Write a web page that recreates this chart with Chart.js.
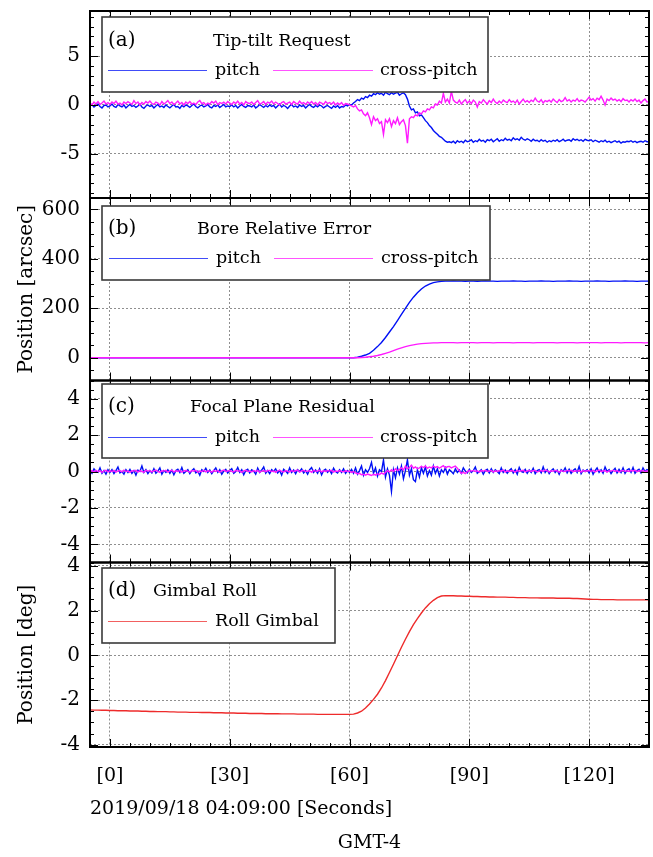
<!DOCTYPE html>
<html><head><meta charset="utf-8">
<script src="https://cdn.jsdelivr.net/npm/chart.js@4/dist/chart.umd.min.js"></script>
<style>
html,body{margin:0;padding:0;background:#fff;}
#wrap{position:relative;width:653px;height:857px;background:#fff;}
#wrap canvas{position:absolute;left:0;top:0;}
</style></head><body>
<div id="wrap">
<canvas id="pa" width="653" height="857"></canvas>
<canvas id="pb" width="653" height="857"></canvas>
<canvas id="pc" width="653" height="857"></canvas>
<canvas id="pd" width="653" height="857"></canvas>
</div>
<script>
// ---------- text ----------
const panelTags = ['(a)', '(b)', '(c)', '(d)'];
const panelTitles = ['Tip-tilt Request', 'Bore Relative Error', 'Focal Plane Residual', 'Gimbal Roll'];
const seriesNames = ['pitch', 'cross-pitch'];
const rollName = 'Roll Gimbal';
const yTitleArcsec = 'Position [arcsec]';
const yTitleDeg = 'Position [deg]';
const xTitle = '2019/09/18 04:09:00 [Seconds]';
const xZone = 'GMT-4';

// ---------- time axes (seconds) ----------
const tStart = -5, tEnd = 135;
const tFine = [];   for (let i = 0; i <= 280; i++) tFine.push(tStart + i * 0.5);
const tCoarse = []; for (let i = 0; i <= 140; i++) tCoarse.push(tStart + i);

// ---------- (a) Tip-tilt Request [arcsec], every 0.5 s ----------
const tipPitch = [
-0.1,0.05,-0.2,-0.05,0.1,-0.15,-0.3,-0.05,0.0,-0.2,
-0.1,0.1,-0.15,-0.25,0.05,-0.1,-0.2,0.0,-0.3,-0.1,
0.05,-0.15,-0.05,-0.25,-0.1,0.1,-0.2,-0.35,-0.1,0.0,
-0.15,-0.05,-0.3,-0.1,0.05,-0.2,-0.1,-0.25,0.0,-0.15,
-0.3,-0.1,0.05,-0.2,-0.15,-0.35,-0.05,-0.2,0.0,-0.1,
-0.25,-0.05,0.1,-0.15,-0.3,-0.1,0.0,-0.2,-0.1,0.05,
-0.2,-0.3,-0.05,-0.15,0.0,-0.25,-0.1,0.05,-0.2,-0.1,
-0.15,0.0,-0.2,-0.05,-0.3,-0.1,0.05,-0.15,-0.25,-0.05,
-0.1,-0.2,0.0,-0.3,-0.15,0.05,-0.1,-0.25,-0.05,-0.2,
0.0,-0.15,-0.05,-0.3,-0.1,0.1,-0.2,-0.05,-0.15,-0.35,
-0.1,0.05,-0.2,-0.1,-0.25,0.0,-0.15,-0.05,-0.3,-0.1,
0.05,-0.15,-0.25,-0.05,-0.2,0.0,-0.1,-0.3,-0.15,-0.05,
-0.2,-0.35,-0.1,-0.25,-0.05,-0.3,-0.15,-0.2,0.0,-0.1,
0.05,0.0,0.2,0.35,0.55,0.45,0.7,0.6,0.85,0.75,
1.0,0.9,1.15,1.05,1.25,1.1,1.2,1.0,1.3,1.15,
1.05,1.25,1.1,1.2,1.3,1.0,1.15,1.25,1.05,0.6,
-0.1,-0.5,-0.4,-0.8,-0.7,-1.1,-1.0,-1.3,-1.6,-1.8,
-2.1,-2.3,-2.6,-2.8,-3.0,-3.2,-3.3,-3.5,-3.7,-3.8,
-3.75,-3.85,-3.7,-3.9,-3.65,-3.8,-3.7,-3.85,-3.6,-3.75,
-3.7,-3.55,-3.8,-3.65,-3.75,-3.5,-3.7,-3.6,-3.8,-3.55,
-3.65,-3.5,-3.75,-3.6,-3.45,-3.7,-3.55,-3.65,-3.4,-3.6,
-3.5,-3.65,-3.35,-3.55,-3.45,-3.6,-3.3,-3.5,-3.6,-3.45,
-3.55,-3.7,-3.5,-3.65,-3.6,-3.75,-3.55,-3.7,-3.6,-3.8,
-3.65,-3.75,-3.6,-3.7,-3.55,-3.75,-3.65,-3.5,-3.7,-3.6,
-3.55,-3.7,-3.45,-3.6,-3.5,-3.65,-3.55,-3.7,-3.5,-3.6,
-3.65,-3.55,-3.75,-3.6,-3.7,-3.8,-3.65,-3.75,-3.6,-3.8,
-3.7,-3.85,-3.75,-3.65,-3.8,-3.7,-3.9,-3.75,-3.8,-3.7,
-3.75,-3.65,-3.8,-3.7,-3.85,-3.75,-3.7,-3.8,-3.65,-3.75,
-3.75];
const tipCross = [
0.2,0.0,0.3,0.1,0.35,0.05,0.2,0.4,0.1,0.25,
0.05,0.3,0.15,0.4,0.1,0.2,0.0,0.3,0.15,0.35,
0.2,0.05,0.45,0.15,0.3,0.0,0.25,0.1,0.35,0.2,
0.4,0.15,0.05,0.3,0.2,0.0,0.35,0.1,0.25,0.45,
0.15,0.3,0.05,0.2,0.4,0.1,0.25,0.0,0.3,0.15,
0.35,0.1,0.2,0.05,0.3,0.45,0.15,0.25,0.0,0.2,
0.1,0.35,0.2,0.4,0.05,0.25,0.15,0.3,0.1,0.35,
0.2,0.05,0.3,0.15,0.4,0.1,0.25,0.0,0.35,0.2,
0.15,0.3,0.05,0.25,0.45,0.1,0.2,0.35,0.05,0.3,
0.2,0.4,0.1,0.3,0.15,0.0,0.25,0.35,0.1,0.2,
0.3,0.05,0.35,0.2,0.1,0.4,0.15,0.25,0.05,0.3,
0.15,0.35,0.1,0.25,0.0,0.3,0.2,0.05,0.35,0.15,
0.25,0.1,0.3,0.0,0.2,0.05,0.25,-0.05,0.15,0.1,
0.0,-0.1,-0.2,-0.05,-0.4,-0.6,-0.5,-0.9,-1.1,-0.8,
-1.3,-2.0,-1.2,-1.6,-1.4,-1.9,-1.7,-3.0,-1.5,-1.8,
-1.4,-2.2,-1.6,-1.9,-1.3,-2.0,-1.7,-1.5,-2.1,-3.9,
-1.4,-1.2,-1.3,-1.0,-1.1,-0.8,-0.9,-0.6,-0.7,-0.4,
-0.5,-0.2,-0.3,0.1,0.0,0.4,0.2,1.2,0.3,0.6,
0.2,1.4,0.5,0.3,0.2,0.5,0.1,0.35,0.55,0.2,
0.4,0.15,0.5,0.3,-0.2,0.35,0.2,0.55,0.3,0.1,
0.45,0.25,0.6,0.3,0.15,0.4,0.2,0.5,0.35,0.25,
0.55,0.3,0.4,0.2,0.5,0.1,0.35,0.6,0.3,0.45,
0.25,0.5,0.35,0.7,0.4,0.3,0.55,0.2,0.45,0.35,
0.5,0.3,0.6,0.4,0.25,0.55,0.35,0.45,0.75,0.4,
0.55,0.3,0.5,0.4,0.65,0.35,0.5,0.45,0.3,0.55,
0.8,0.5,0.65,0.4,0.7,0.55,0.9,0.5,0.0,0.6,
0.45,0.7,0.5,0.6,0.4,0.55,0.35,0.65,0.45,0.5,
0.3,0.55,0.4,0.6,0.35,0.5,0.2,0.45,0.6,0.3,
0.35];

// ---------- (b) Bore Relative Error [arcsec], every 1 s ----------
const borePitch = [
0,0,0,0,0,0,0,0,0,0,
0,0,0,0,0,0,0,0,0,0,
0,0,0,0,0,0,0,0,0,0,
0,0,0,0,0,0,0,0,0,0,
0,0,0,0,0,0,0,0,0,0,
0,0,0,0,0,0,0,0,0,0,
0,0,0,0,0,0,0,
2,6,11,18,30,45,62,82,104,126,150,175,200,224,245,263,278,290,298,304,307,309,310,310,311,310,310,309,
310,310,309,310,311,310,310,309,310,310,
310,311,310,310,309,310,310,310,311,310,
310,309,310,310,310,311,310,310,309,310,
310,310,311,310,310,309,310,310,310,311,
310,310,309,310,310,310];
const boreCross = [
0,0,0,0,0,0,0,0,0,0,
0,0,0,0,0,0,0,0,0,0,
0,0,0,0,0,0,0,0,0,0,
0,0,0,0,0,0,0,0,0,0,
0,0,0,0,0,0,0,0,0,0,
0,0,0,0,0,0,0,0,0,0,
0,0,0,0,0,0,0,0,
1,2,4,6,9,13,18,23,29,35,40,45,49,52,55,57,58,59,60,60,61,61,61,61,60,61,61,
61,61,60,61,61,61,60,61,61,61,
61,60,61,61,61,61,60,61,61,61,
61,61,60,61,61,61,61,60,61,61,
61,61,61,60,61,61,61,61,60,61,
61,61,61,61,60,61];

// ---------- (c) Focal Plane Residual [arcsec], every 0.5 s ----------
const fpPitch = [
0.05,-0.1,0.15,0.0,-0.05,0.2,-0.1,0.05,-0.15,0.1,
-0.05,0.1,-0.12,0.05,0.25,-0.08,0.0,-0.15,0.1,-0.05,
0.12,-0.1,0.05,-0.2,0.08,0.0,0.3,-0.05,0.1,-0.12,
0.05,-0.08,0.15,-0.1,0.02,0.2,-0.15,0.05,-0.05,0.1,
-0.1,0.08,-0.18,0.05,0.12,-0.05,0.22,-0.1,0.0,0.1,
-0.12,0.05,0.15,-0.08,0.02,-0.2,0.1,0.0,0.18,-0.05,
0.08,-0.12,0.05,0.2,-0.05,0.1,-0.15,0.02,0.12,-0.08,
0.05,0.15,-0.1,0.0,0.22,-0.05,0.1,-0.18,0.05,0.12,
-0.08,0.1,0.02,-0.15,0.18,-0.05,0.08,0.25,-0.1,0.05,
-0.12,0.1,0.0,0.15,-0.08,0.05,-0.2,0.12,0.02,-0.1,
0.2,-0.05,0.08,-0.12,0.1,0.0,0.15,-0.08,0.05,-0.15,
0.1,0.22,-0.05,0.08,-0.1,0.15,-0.18,0.05,0.12,-0.05,
0.08,-0.12,0.18,0.0,-0.08,0.1,-0.05,0.15,-0.1,0.05,
-0.05,0.12,-0.1,0.2,-0.15,0.05,0.3,-0.2,0.1,-0.05,
0.15,0.5,-0.1,0.2,-0.25,0.1,0.0,0.64,-0.3,0.15,
-0.2,-1.1,0.1,-0.35,0.2,-0.15,0.3,-0.4,0.05,0.64,
-0.2,0.15,-0.45,-0.55,0.1,-0.3,0.2,-0.1,0.25,-0.25,
0.05,-0.2,0.3,-0.1,0.15,-0.25,0.1,-0.05,0.2,-0.15,
0.1,0.0,-0.12,0.15,-0.05,0.08,-0.1,0.2,0.02,-0.08,
0.12,-0.05,0.05,0.25,-0.1,0.0,0.1,-0.15,0.05,0.12,
-0.08,0.15,-0.05,0.1,0.0,-0.12,0.2,-0.05,0.08,-0.1,
0.05,0.15,-0.08,0.1,-0.15,0.22,0.0,-0.05,0.12,-0.1,
0.08,-0.05,0.18,-0.12,0.05,0.1,-0.08,0.25,-0.05,0.1,
-0.12,0.05,0.15,-0.05,0.08,-0.15,0.1,0.0,0.2,-0.08,
0.12,-0.1,0.05,0.15,-0.05,0.28,-0.12,0.08,0.0,0.1,
-0.08,0.15,-0.15,0.05,0.2,-0.05,0.1,-0.1,0.25,0.0,
0.1,-0.12,0.05,0.18,-0.08,0.12,-0.05,0.2,-0.1,0.08,
0.15,-0.05,0.22,-0.1,0.05,0.12,-0.08,0.2,0.0,0.1,
0.05];
const fpCross = [
0.02,0.05,-0.03,0.06,0.0,0.04,-0.05,0.03,0.07,-0.02,
0.04,0.0,0.06,-0.04,0.03,0.05,-0.02,0.08,0.0,0.03,
-0.05,0.04,0.02,0.07,-0.03,0.05,0.0,-0.04,0.06,0.02,
0.05,-0.02,0.03,0.08,0.0,-0.05,0.04,0.02,0.06,-0.03,
0.03,0.07,-0.02,0.04,0.0,0.06,-0.04,0.03,0.05,0.01,
-0.03,0.05,0.02,0.07,-0.05,0.03,0.0,0.06,-0.02,0.04,
0.02,-0.04,0.06,0.0,0.05,-0.03,0.04,0.08,0.0,0.03,
0.05,0.01,-0.03,0.06,0.02,0.04,-0.05,0.03,0.07,0.0,
0.03,-0.02,0.05,0.0,0.06,-0.04,0.02,0.05,-0.01,0.04,
0.06,0.0,0.03,-0.05,0.04,0.07,0.01,-0.03,0.05,0.02,
-0.02,0.05,0.0,0.04,0.08,-0.03,0.03,0.06,0.0,0.02,
0.04,-0.04,0.06,0.01,0.03,0.07,-0.02,0.04,0.0,0.05,
0.02,0.06,-0.03,0.03,0.0,0.05,0.01,-0.02,0.04,0.0,
0.02,-0.05,0.0,-0.08,-0.12,-0.1,-0.18,-0.15,-0.2,-0.14,
-0.18,-0.22,-0.15,-0.2,-0.12,-0.17,-0.08,-0.14,-0.05,0.05,
-0.02,0.1,0.0,0.15,0.05,0.12,0.2,0.08,0.3,0.15,
0.22,0.35,0.18,0.25,0.15,0.2,0.28,0.22,0.3,0.18,
0.25,0.2,0.3,0.22,0.27,0.18,0.25,0.32,0.2,0.26,
0.28,0.2,0.25,0.3,0.18,0.05,-0.1,-0.05,-0.12,0.0,
0.05,0.02,0.06,0.0,0.04,-0.03,0.05,0.02,0.07,0.0,
0.03,0.06,-0.02,0.04,0.0,0.05,0.02,0.08,-0.03,0.04,
0.0,0.05,0.03,-0.04,0.06,0.01,0.04,0.07,-0.02,0.03,
0.05,0.0,0.04,0.06,-0.03,0.02,0.05,0.0,0.08,0.03,
-0.02,0.04,0.01,0.06,0.03,-0.04,0.05,0.02,0.0,0.06,
0.03,0.07,-0.01,0.04,0.02,0.05,-0.03,0.06,0.0,0.04,
0.05,0.01,0.06,-0.02,0.04,0.08,0.0,0.03,0.05,-0.03,
0.04,0.02,0.07,0.0,0.05,-0.02,0.03,0.06,0.01,0.04,
0.0,0.05,0.03,0.07,-0.01,0.04,0.02,0.06,0.0,0.03,
0.02];

// ---------- (d) Gimbal Roll [deg], every 1 s ----------
const gimbalRoll = [
-2.44,-2.45,-2.45,-2.46,-2.46,
-2.47,-2.47,-2.48,-2.48,-2.48,-2.49,-2.49,-2.49,-2.50,-2.50,
-2.51,-2.51,-2.52,-2.52,-2.52,-2.53,-2.53,-2.54,-2.54,-2.54,
-2.55,-2.55,-2.55,-2.56,-2.56,-2.56,-2.57,-2.57,-2.57,-2.58,
-2.58,-2.58,-2.59,-2.59,-2.59,-2.60,-2.60,-2.60,-2.60,-2.61,
-2.61,-2.61,-2.61,-2.62,-2.62,-2.62,-2.62,-2.63,-2.63,-2.63,
-2.63,-2.63,-2.64,-2.64,-2.64,-2.64,-2.64,-2.64,-2.64,-2.64,
-2.64,-2.63,
-2.58,-2.50,-2.36,-2.18,-1.97,-1.74,-1.46,-1.13,-0.77,-0.40,
-0.02,0.36,0.72,1.06,1.37,1.64,1.89,2.12,2.31,2.46,
2.58,2.65,2.67,2.66,2.66,2.65,2.65,2.64,
2.64,2.63,2.63,2.62,2.62,2.61,2.61,2.60,2.60,2.60,
2.59,2.59,2.58,2.58,2.58,2.57,2.57,2.57,2.56,2.56,
2.56,2.56,2.55,2.55,2.55,2.55,2.54,2.54,2.53,2.52,
2.51,2.50,2.50,2.49,2.49,2.49,2.49,2.48,2.48,2.48,
2.48,2.48,2.48,2.48,2.48,2.48];

// ---------- styling ----------
const FONT = "'DejaVu Serif', 'Liberation Serif', serif";
const BLUE = '#0010f5', MAGENTA = '#ff1aff', RED = '#ee2b2b';
const GRID = '#8f8f8f';

function pts(t, v) { const n = Math.min(t.length, v.length); const out = []; for (let i = 0; i < n; i++) out.push({x: t[i], y: v[i]}); return out; }

function decorPlugin(cfg) {
  return {
    id: 'decor',
    afterDatasetsDraw(chart) {
      const {ctx, chartArea: a, scales: {x, y}} = chart;
      ctx.save();
      ctx.strokeStyle = '#000'; ctx.lineWidth = 1;
      ctx.beginPath();
      x.ticks.forEach(t => {
        const px = Math.round(x.getPixelForValue(t.value)) + 0.5;
        const L = (t.value % 30 === 0) ? 8 : 4;
        ctx.moveTo(px, a.top); ctx.lineTo(px, a.top + L);
        ctx.moveTo(px, a.bottom); ctx.lineTo(px, a.bottom - L);
      });
      y.ticks.forEach(t => {
        const py = Math.round(y.getPixelForValue(t.value)) + 0.5;
        const L = cfg.isMajor(t.value) ? 8 : 4;
        ctx.moveTo(a.left, py); ctx.lineTo(a.left + L, py);
        ctx.moveTo(a.right, py); ctx.lineTo(a.right - L, py);
      });
      ctx.stroke();
      ctx.lineWidth = 2;
      ctx.strokeRect(a.left, a.top, a.right - a.left, a.bottom - a.top);
      // legend box
      const lg = cfg.legend;
      ctx.fillStyle = '#fff';
      ctx.fillRect(lg.x, lg.y, lg.w, lg.h);
      ctx.strokeStyle = '#3a3a3a'; ctx.lineWidth = 1.6;
      ctx.strokeRect(lg.x, lg.y, lg.w, lg.h);
      ctx.fillStyle = '#000';
      ctx.textBaseline = 'middle'; ctx.textAlign = 'left';
      ctx.font = '20px ' + FONT;
      ctx.fillText(lg.tag, lg.tagX, lg.row1);
      ctx.font = '17.5px ' + FONT;
      ctx.fillText(lg.title, lg.titleX, lg.row1);
      const dsList = chart.data.datasets;
      lg.items.forEach((it, i) => {
        const ds = dsList[i];
        ctx.strokeStyle = ds.borderColor; ctx.lineWidth = 1.2; ctx.globalAlpha = 0.75;
        ctx.beginPath(); ctx.moveTo(it.l0, lg.row2 + 0.5); ctx.lineTo(it.l1, lg.row2 + 0.5); ctx.stroke();
        ctx.globalAlpha = 1;
        ctx.fillStyle = '#000'; ctx.font = '17.5px ' + FONT;
        ctx.fillText(ds.label, it.tx, lg.row2);
      });
      if (cfg.zoneText) {
        ctx.font = '19px ' + FONT; ctx.textAlign = 'center';
        ctx.fillText(cfg.zoneText, (a.left + a.right) / 2, 843);
      }
      ctx.restore();
    }
  };
}

function makePanel(id, cfg) {
  const xH = cfg.bottomAxis ? 857 - cfg.bottom : 0;
  const padBottom = cfg.bottomAxis ? 0 : 857 - cfg.bottom;
  return new Chart(document.getElementById(id), {
    type: 'line',
    data: { datasets: cfg.datasets },
    options: {
      responsive: false, animation: false, events: [],
      layout: { padding: { top: cfg.top, bottom: padBottom, left: 0, right: 4 } },
      plugins: { legend: { display: false }, tooltip: { enabled: false } },
      elements: { point: { radius: 0 }, line: { tension: 0, borderWidth: 1.4 } },
      scales: {
        x: {
          type: 'linear', min: tStart, max: tEnd,
          ticks: {
            stepSize: 5, includeBounds: false, autoSkip: false, maxRotation: 0, minRotation: 0,
            display: !!cfg.bottomAxis, padding: 18, color: '#000',
            font: { family: FONT, size: 19 },
            callback: v => (v % 30 === 0) ? '[' + v + ']' : ''
          },
          grid: { drawTicks: false, lineWidth: 1,
                  color: c => (c.tick && c.tick.value % 30 === 0) ? GRID : 'rgba(0,0,0,0)' },
          border: { display: false, dash: [2, 2] },
          title: cfg.bottomAxis ? { display: true, text: xTitle, align: 'start', color: '#000',
                  font: { family: FONT, size: 19 }, padding: { top: 0, bottom: 37 } } : { display: false },
          afterFit: s => { s.height = xH; s.paddingLeft = 0; s.paddingRight = 0; }
        },
        y: {
          type: 'linear', min: cfg.min, max: cfg.max,
          ticks: {
            stepSize: cfg.step, includeBounds: false, autoSkip: false, padding: 10, color: '#000',
            font: { family: FONT, size: 20 },
            callback: v => cfg.isMajor(v) ? String(v) : ''
          },
          grid: { drawTicks: false, lineWidth: 1,
                  color: c => (c.tick && cfg.isMajor(c.tick.value)) ? GRID : 'rgba(0,0,0,0)' },
          border: { display: false, dash: [2, 2] },
          title: cfg.yTitle ? { display: true, text: cfg.yTitle, color: '#000',
                  font: { family: FONT, size: 20 }, padding: { top: 15, bottom: 0 } } : { display: false },
          afterFit: s => { s.width = 90; s.paddingTop = 0; s.paddingBottom = 0; }
        }
      }
    },
    plugins: [decorPlugin(cfg)]
  });
}

const rowItems = [{l0: 108, l1: 207, tx: 215}, {l0: 273, l1: 373, tx: 380}];

makePanel('pa', {
  top: 11, bottom: 198, min: -9.5, max: 9.6, step: 1,
  isMajor: v => Math.abs(v % 5) < 1e-9,
  datasets: [
    { label: seriesNames[0], data: pts(tFine, tipPitch), borderColor: BLUE, order: 2 },
    { label: seriesNames[1], data: pts(tFine, tipCross), borderColor: MAGENTA, order: 1 }
  ],
  legend: { x: 102, y: 17, w: 386, h: 75, tag: panelTags[0], tagX: 108, title: panelTitles[0], titleX: 213,
            row1: 41, row2: 70, items: rowItems }
});
makePanel('pb', {
  top: 198, bottom: 380.5, min: -92, max: 646, step: 50, yTitle: yTitleArcsec,
  isMajor: v => Math.abs(v % 200) < 1e-9,
  datasets: [
    { label: seriesNames[0], data: pts(tCoarse, borePitch), borderColor: BLUE, order: 2 },
    { label: seriesNames[1], data: pts(tCoarse, boreCross), borderColor: MAGENTA, order: 1 }
  ],
  legend: { x: 102, y: 206, w: 388, h: 74, tag: panelTags[1], tagX: 108, title: panelTitles[1], titleX: 197,
            row1: 229, row2: 258, items: [{l0: 109, l1: 208, tx: 216}, {l0: 274, l1: 373, tx: 381}] }
});
makePanel('pc', {
  top: 380.5, bottom: 562.5, min: -5, max: 5, step: 0.5,
  isMajor: v => Math.abs(v % 2) < 1e-9,
  datasets: [
    { label: seriesNames[0], data: pts(tFine, fpPitch), borderColor: BLUE, order: 2 },
    { label: seriesNames[1], data: pts(tFine, fpCross), borderColor: MAGENTA, order: 1 }
  ],
  legend: { x: 102, y: 384, w: 386, h: 74, tag: panelTags[2], tagX: 108, title: panelTitles[2], titleX: 190,
            row1: 407, row2: 437, items: rowItems }
});
makePanel('pd', {
  top: 562.5, bottom: 747, min: -4.1, max: 4.15, step: 0.5, yTitle: yTitleDeg, bottomAxis: true, zoneText: xZone,
  isMajor: v => Math.abs(v % 2) < 1e-9,
  datasets: [
    { label: rollName, data: pts(tCoarse, gimbalRoll), borderColor: RED, order: 1 }
  ],
  legend: { x: 102, y: 568, w: 233, h: 75, tag: panelTags[3], tagX: 108, title: panelTitles[3], titleX: 153,
            row1: 591, row2: 621, items: [{l0: 108, l1: 207, tx: 215}] }
});
</script>
</body></html>
